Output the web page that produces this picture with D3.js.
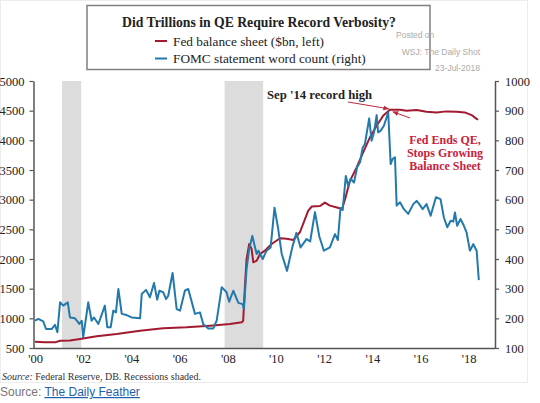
<!DOCTYPE html>
<html><head><meta charset="utf-8">
<script src="https://cdn.jsdelivr.net/npm/d3@7"></script>
<style>
html,body{margin:0;padding:0;background:#fff;}
svg{display:block;}
</style></head>
<body>
<svg id="chart" width="540" height="403"></svg>
<script>
// ---- data ----
const fedDates = [2000.00,2000.41,2000.83,2001.04,2001.45,2001.87,2002.56,2003.39,2004.36,2005.32,2006.29,2007.26,2008.09,2008.58,2008.64,2008.71,2008.78,2008.89,2008.99,2009.06,2009.20,2009.34,2009.54,2009.82,2010.17,2010.44,2010.72,2011.00,2011.34,2011.49,2011.83,2012.03,2012.24,2012.53,2012.74,2012.86,2013.07,2013.35,2013.62,2013.90,2014.18,2014.45,2014.73,2015.15,2015.42,2015.84,2016.25,2016.67,2017.08,2017.50,2017.84,2018.12,2018.30,2018.39];
const fedValues = [606,595,595,623,625,652,697,736,791,832,849,876,904,933,960,1523,2000,2252,2168,1944,1971,2084,2140,2252,2350,2340,2320,2455,2814,2885,2893,2950,2900,2868,2842,2994,3314,3545,3797,4050,4246,4414,4515,4515,4498,4510,4481,4471,4488,4481,4471,4426,4370,4347];

const fomcDates = [2000.00,2000.14,2000.34,2000.46,2000.69,2000.83,2000.93,2001.04,2001.17,2001.36,2001.45,2001.66,2001.84,2001.94,2002.00,2002.21,2002.35,2002.45,2002.63,2002.90,2003.00,2003.14,2003.25,2003.36,2003.46,2003.60,2003.80,2004.01,2004.36,2004.43,2004.61,2004.77,2004.94,2005.07,2005.16,2005.32,2005.44,2005.53,2005.71,2005.88,2006.02,2006.22,2006.36,2006.64,2006.85,2006.98,2007.19,2007.40,2007.54,2007.75,2007.95,2008.06,2008.23,2008.44,2008.62,2008.67,2008.78,2008.89,2009.02,2009.10,2009.20,2009.27,2009.45,2009.61,2009.78,2009.94,2010.08,2010.24,2010.46,2010.68,2010.85,2011.02,2011.27,2011.42,2011.62,2011.80,2011.99,2012.24,2012.45,2012.57,2012.68,2012.77,2012.90,2013.00,2013.10,2013.24,2013.37,2013.49,2013.60,2013.69,2013.76,2013.87,2013.97,2014.07,2014.18,2014.24,2014.34,2014.48,2014.66,2014.76,2014.84,2014.94,2015.01,2015.15,2015.31,2015.49,2015.70,2015.84,2015.95,2016.09,2016.25,2016.42,2016.64,2016.83,2016.97,2017.11,2017.25,2017.36,2017.43,2017.52,2017.66,2017.80,2017.91,2018.05,2018.19,2018.33,2018.42];
const fomcValues = [192,198,190,164,164,178,153,254,243,254,203,200,181,192,136,254,192,203,181,243,170,170,226,220,299,215,211,203,200,282,296,271,319,263,293,288,265,276,353,231,226,293,299,215,220,181,166,166,192,305,288,256,293,252,248,231,366,434,478,450,417,428,400,428,439,573,508,417,360,440,488,439,467,459,558,476,428,439,484,464,572,565,680,646,670,658,709,726,776,787,821,874,799,827,885,827,832,849,894,720,737,743,580,591,568,552,585,596,585,568,585,546,608,602,540,507,529,526,557,512,535,512,490,428,450,428,329];

const recessions = [[2001.12, 2001.92], [2007.87, 2009.47]];
const leftTicks = [500,1000,1500,2000,2500,3000,3500,4000,4500,5000];
const rightTicks = [100,200,300,400,500,600,700,800,900,1000];
const xTicks = [2000,2002,2004,2006,2008,2010,2012,2014,2016,2018];
const titleText = "Did Trillions in QE Require Record Verbosity?";
const legendLabels = ["Fed balance sheet ($bn, left)", "FOMC statement word count (right)"];
const noteLabels = ["Fed Ends QE,","Stops Growing","Balance Sheet"];

// ---- drawing ----
const RED = "#a3192f", BLUE = "#2379ab", AXIS = "#555";
const serif = "'Palatino Linotype','Book Antiqua',Palatino,'Liberation Serif','DejaVu Serif',serif";
const svg = d3.select("#chart");

// faint image border
svg.append("rect").attr("x",0.5).attr("y",0.5).attr("width",527).attr("height",382)
  .attr("fill","none").attr("stroke","#ececec");

const x = d3.scaleLinear().domain([2000, 2019.05]).range([35, 494]);
const yL = d3.scaleLinear().domain([500, 5000]).range([348, 81]);
const yR = d3.scaleLinear().domain([100, 1000]).range([348, 81]);

// recessions
svg.append("g").selectAll("rect").data(recessions).join("rect")
  .attr("x", d => x(d[0])).attr("width", d => x(d[1]) - x(d[0]))
  .attr("y", yL(5000)).attr("height", yL(500) - yL(5000))
  .attr("fill", "#dcdcdc");

// lines
const fedData = fedDates.map((d,i)=>[d, fedValues[i]]);
const fomcData = fomcDates.map((d,i)=>[d, fomcValues[i]]);
svg.append("path").datum(fedData)
  .attr("fill","none").attr("stroke",RED).attr("stroke-width",2).attr("stroke-linejoin","round")
  .attr("d", d3.line().x(d=>x(d[0])).y(d=>yL(d[1])));
svg.append("path").datum(fomcData)
  .attr("fill","none").attr("stroke",BLUE).attr("stroke-width",2).attr("stroke-linejoin","round")
  .attr("d", d3.line().x(d=>x(d[0])).y(d=>yR(d[1])));

// axes
function styleAxis(g){
  g.select(".domain").attr("stroke",AXIS).attr("stroke-width",1.5);
  g.selectAll(".tick line").attr("stroke",AXIS).attr("stroke-width",1.2);
  g.selectAll(".tick text").attr("fill","#222").style("font-family",serif).style("font-size","12.5px");
}
svg.append("g").attr("transform","translate(33.5,0)")
  .call(d3.axisLeft(yL).tickValues(leftTicks).tickSize(4).tickSizeOuter(0).tickPadding(5).tickFormat(d3.format("d")))
  .call(styleAxis);
svg.append("g").attr("transform","translate(495,0)")
  .call(d3.axisRight(yR).tickValues(rightTicks).tickSize(4).tickSizeOuter(0).tickPadding(6).tickFormat(d3.format("d")))
  .call(styleAxis);
const xa = svg.append("g").attr("transform","translate(0,348.5)")
  .call(d3.axisBottom(x).tickValues(xTicks).tickSize(0).tickPadding(6)
    .tickFormat(d => "'" + String(d).slice(2)))
  .call(styleAxis);
xa.select(".domain").attr("d", `M33.5,0H495`);

// title box
svg.append("rect").attr("x",87).attr("y",5.5).attr("width",343).attr("height",64)
  .attr("fill","#fff").attr("stroke","#808080").attr("stroke-width",1.5);
svg.append("text").attr("x",259).attr("y",27).attr("text-anchor","middle")
  .style("font-family",serif).style("font-size","13.7px").style("font-weight","bold").attr("fill","#222")
  .text(titleText);
const legendColors = [RED, BLUE];
legendLabels.forEach((t,i)=>{
  const yy = 41 + i*17.5;
  svg.append("line").attr("x1",155).attr("x2",167).attr("y1",yy).attr("y2",yy)
    .attr("stroke",legendColors[i]).attr("stroke-width",2);
  svg.append("text").attr("x",173).attr("y",yy+4.5)
    .style("font-family",serif).style("font-size","13.3px").attr("fill","#222").text(t);
});

// posted-on stamp
const stamp = svg.append("g").style("font-family","'Liberation Sans',Arial,sans-serif").style("font-size","8.5px").attr("fill","#aaa");
stamp.append("text").attr("x",396).attr("y",38).text("Posted on");
stamp.append("text").attr("x",480).attr("y",55).attr("text-anchor","end").text("WSJ: The Daily Shot");
stamp.append("text").attr("x",480).attr("y",71).attr("text-anchor","end").text("23-Jul-2018");

// annotations
svg.append("defs").html(`
<marker id="ah1" viewBox="0 0 10 10" refX="9" refY="5" markerWidth="6" markerHeight="6" orient="auto"><path d="M0,1L10,5L0,9z" fill="#c0283e"/></marker>`);
svg.append("text").attr("x",267).attr("y",99)
  .style("font-family",serif).style("font-size","12.7px").style("font-weight","bold").attr("fill","#222")
  .text("Sep '14 record high");
svg.append("line").attr("x1",348).attr("y1",102).attr("x2",x(2014.68)).attr("y2",yL(4515)-1)
  .attr("stroke","#c0283e").attr("stroke-width",1).attr("marker-end","url(#ah1)");
svg.append("line").attr("x1",410).attr("y1",118).attr("x2",x(2014.73)+3).attr("y2",yL(4515)+2)
  .attr("stroke","#c0283e").attr("stroke-width",1).attr("marker-end","url(#ah1)");
noteLabels.forEach((t,i)=>{
  svg.append("text").attr("x",445).attr("y",143.5+i*13.4)
    .attr("text-anchor","middle").style("font-family",serif).style("font-size","12px")
    .style("font-weight","bold").attr("fill","#c8223c").text(t);
});

// source lines
const s1 = svg.append("text").attr("x",2).attr("y",380).style("font-family",serif).style("font-size","10px").attr("fill","#333");
s1.append("tspan").style("font-style","italic").text("Source:");
s1.append("tspan").text(" Federal Reserve, DB. Recessions shaded.");
const s2 = svg.append("text").attr("x",0).attr("y",396).style("font-family","'Liberation Sans',Arial,sans-serif").style("font-size","12px");
s2.append("tspan").attr("fill","#777").text("Source: ");
s2.append("tspan").attr("fill","#1f5fae").style("text-decoration","underline").text("The Daily Feather");
</script>
</body></html>
